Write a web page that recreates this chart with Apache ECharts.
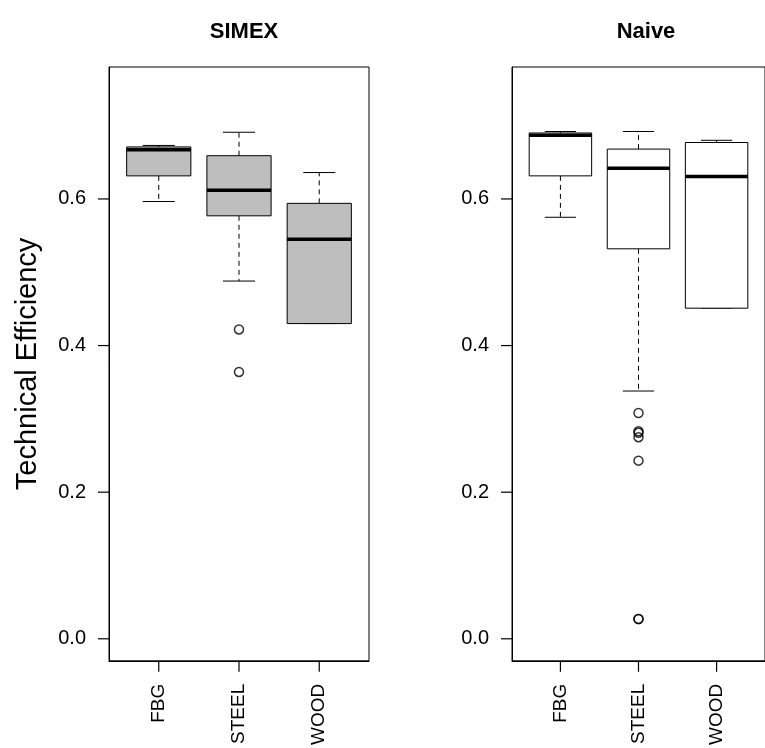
<!DOCTYPE html>
<html>
<head>
<meta charset="utf-8">
<script src="https://cdn.jsdelivr.net/npm/echarts@6/dist/echarts.min.js"></script>
<style>
  html, body { margin: 0; padding: 0; background: #fff; }
  #chart { width: 765px; height: 748px; }
</style>
</head>
<body>
<div id="chart"></div>
<script>
// Groups on the x axis
const categories = ['FBG', 'STEEL', 'WOOD'];

// Five-number summaries per group: [lower whisker, Q1, median, Q3, upper whisker]
const simexStats = [
  [0.5965, 0.6315, 0.667, 0.671, 0.673],
  [0.488, 0.577, 0.612, 0.659, 0.691],
  [0.430, 0.430, 0.545, 0.594, 0.636]
];
const naiveStats = [
  [0.575, 0.6315, 0.687, 0.690, 0.692],
  [0.338, 0.532, 0.642, 0.668, 0.692],
  [0.451, 0.451, 0.6305, 0.677, 0.680]
];

// Outlying points: [group index (1-based), value]
const simexOutliers = [[2, 0.422], [2, 0.364]];
const naiveOutliers = [
  [2, 0.308], [2, 0.283], [2, 0.281], [2, 0.275], [2, 0.243], [2, 0.027], [2, 0.027]
];

// Y axis tick values
const yTicks = [0, 0.2, 0.4, 0.6];
// X axis tick positions (one per group)
const xTicks = [1, 2, 3];

const panelTitles = ['SIMEX', 'Naive'];
const boxFills = ['#BEBEBE', '#FFFFFF'];

const X_MIN = 0.38, X_MAX = 3.62;
const Y_MIN = -0.03, Y_MAX = 0.78;
const TICK_LEN = 11;

const FONT = '"Liberation Sans", Arial, Helvetica, sans-serif';

function boxData(stats) {
  return stats.map((s, i) => [i + 1].concat(s));
}

function renderBox(fill) {
  return function (params, api) {
    const x = api.value(0);
    const lo = api.coord([x, api.value(1)]);
    const q1 = api.coord([x, api.value(2)]);
    const md = api.coord([x, api.value(3)]);
    const q3 = api.coord([x, api.value(4)]);
    const hi = api.coord([x, api.value(5)]);
    const halfBox = api.size([0.4, 0])[0];
    const halfCap = api.size([0.2, 0])[0];
    const cx = q1[0];
    const dashed = { stroke: '#000', lineWidth: 1, lineDash: [5, 4] };
    const solid = { stroke: '#000', lineWidth: 1 };
    const children = [];
    // whiskers
    if (Math.abs(hi[1] - q3[1]) > 0.5) {
      children.push({ type: 'line', shape: { x1: cx, y1: q3[1], x2: cx, y2: hi[1] }, style: dashed });
    }
    if (Math.abs(lo[1] - q1[1]) > 0.5) {
      children.push({ type: 'line', shape: { x1: cx, y1: q1[1], x2: cx, y2: lo[1] }, style: dashed });
    }
    // whisker caps
    children.push({ type: 'line', shape: { x1: cx - halfCap, y1: hi[1], x2: cx + halfCap, y2: hi[1] }, style: solid });
    children.push({ type: 'line', shape: { x1: cx - halfCap, y1: lo[1], x2: cx + halfCap, y2: lo[1] }, style: solid });
    // box
    children.push({
      type: 'rect',
      shape: { x: cx - halfBox, y: q3[1], width: halfBox * 2, height: q1[1] - q3[1] },
      style: { fill: fill, stroke: '#000', lineWidth: 1 }
    });
    // median
    children.push({
      type: 'line',
      shape: { x1: cx - halfBox, y1: md[1], x2: cx + halfBox, y2: md[1] },
      style: { stroke: '#000', lineWidth: 3.5 }
    });
    return { type: 'group', children: children };
  };
}

const grids = [
  { left: 109, top: 67, width: 260, height: 594 },
  { left: 512, top: 67, width: 258, height: 594 }
];

const xAxes = grids.map((g, i) => ({
  type: 'value',
  gridIndex: i,
  min: X_MIN,
  max: X_MAX,
  position: 'bottom',
  axisLine: { show: true, onZero: false, lineStyle: { color: '#000', width: 1 } },
  splitLine: { show: false },
  axisTick: { show: false },
  axisLabel: {
    customValues: xTicks,
    formatter: v => categories[Math.round(v) - 1],
    rotate: 90,
    margin: 23,
    fontSize: 19,
    color: '#000',
    fontFamily: FONT
  }
}));

const yAxes = grids.map((g, i) => ({
  type: 'value',
  gridIndex: i,
  min: Y_MIN,
  max: Y_MAX,
  position: 'left',
  axisLine: { show: true, onZero: false, lineStyle: { color: '#000', width: 1 } },
  splitLine: { show: false },
  axisTick: { show: false },
  axisLabel: {
    customValues: yTicks,
    formatter: v => v.toFixed(1),
    margin: 23,
    fontSize: 20,
    color: '#000',
    fontFamily: FONT
  },
  name: i === 0 ? 'Technical Efficiency' : '',
  nameLocation: 'middle',
  nameRotate: 90,
  nameGap: 67,
  nameTextStyle: { fontSize: 29, color: '#000', fontFamily: FONT }
}));

const panels = [
  { stats: simexStats, outliers: simexOutliers },
  { stats: naiveStats, outliers: naiveOutliers }
];

const series = [];
panels.forEach((p, i) => {
  series.push({
    type: 'custom',
    xAxisIndex: i,
    yAxisIndex: i,
    renderItem: renderBox(boxFills[i]),
    encode: { x: 0, y: [1, 2, 3, 4, 5] },
    data: boxData(p.stats),
    silent: true,
    z: 2
  });
  series.push({
    type: 'scatter',
    xAxisIndex: i,
    yAxisIndex: i,
    data: p.outliers,
    symbol: 'circle',
    symbolSize: 9,
    itemStyle: { color: 'rgba(0,0,0,0)', borderColor: '#000', borderWidth: 1.5 },
    silent: true,
    z: 3
  });
});

const chart = echarts.init(document.getElementById('chart'), null, { renderer: 'canvas' });
chart.setOption({
  animation: false,
  backgroundColor: '#fff',
  title: panelTitles.map((t, i) => ({
    text: t,
    left: i === 0 ? 239 : 641,
    top: 16,
    textAlign: 'center',
    textStyle: { fontSize: 22, fontWeight: 'bold', color: '#000', fontFamily: FONT }
  })),
  grid: grids.map(g => Object.assign({ show: true, borderColor: '#000', borderWidth: 1, backgroundColor: 'transparent' }, g)),
  xAxis: xAxes,
  yAxis: yAxes,
  series: series
});

// Outward tick marks on the left and bottom edges of each panel,
// positioned through each grid's own scales.
const tickLines = [];
grids.forEach((g, i) => {
  const finder = { gridIndex: i };
  yTicks.forEach(v => {
    const p = chart.convertToPixel(finder, [X_MIN, v]);
    tickLines.push({
      type: 'line', z: 100, silent: true,
      shape: { x1: p[0] - TICK_LEN, y1: p[1], x2: p[0], y2: p[1] },
      style: { stroke: '#000', lineWidth: 1.2 }
    });
  });
  xTicks.forEach(v => {
    const p = chart.convertToPixel(finder, [v, Y_MIN]);
    tickLines.push({
      type: 'line', z: 100, silent: true,
      shape: { x1: p[0], y1: p[1], x2: p[0], y2: p[1] + TICK_LEN },
      style: { stroke: '#000', lineWidth: 1.2 }
    });
  });
});
chart.setOption({ graphic: tickLines });
</script>
</body>
</html>
